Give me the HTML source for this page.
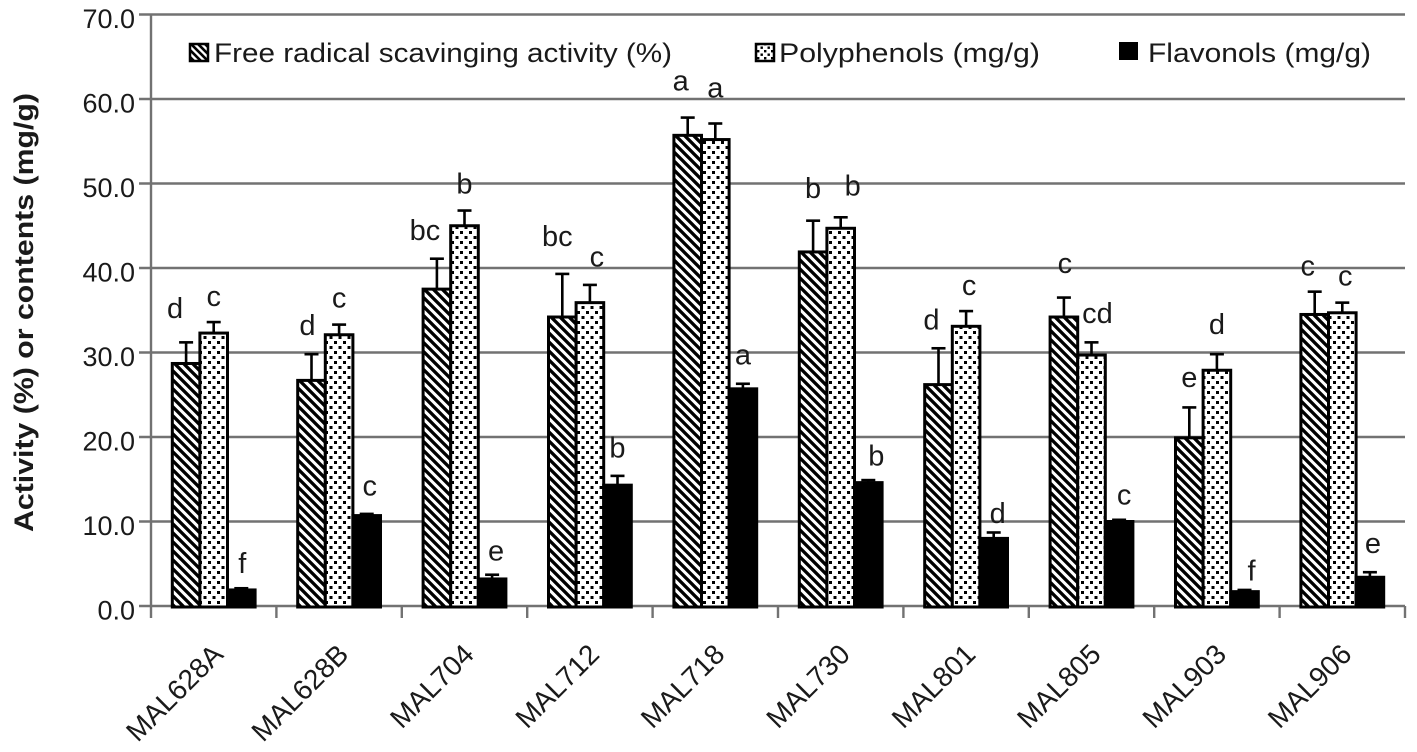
<!DOCTYPE html>
<html lang="en">
<head>
<meta charset="utf-8">
<title>Activity and contents by sample</title>
<style>
html,body{margin:0;padding:0;background:#fff;}
svg{display:block;}
text{font-family:"Liberation Sans",sans-serif;fill:#1a1a1a;}
</style>
</head>
<body>
<svg id="chart" width="1417" height="752" viewBox="0 0 1417 752" xmlns="http://www.w3.org/2000/svg">
<defs>
<pattern id="hatch" patternUnits="userSpaceOnUse" width="9" height="9">
<rect width="9" height="9" fill="#fff"/>
<path d="M-2,-2 L11,11 M-2,7 L2,11 M7,-2 L11,2" stroke="#000" stroke-width="3.3"/>
</pattern>
<pattern id="dots" patternUnits="userSpaceOnUse" width="9" height="10">
<rect width="9" height="10" fill="#fff"/>
<rect x="1" y="1" width="3" height="3" fill="#000"/>
<rect x="5.5" y="6" width="3" height="3" fill="#000"/>
</pattern>
<pattern id="hatch-small" patternUnits="userSpaceOnUse" width="7" height="7">
<rect width="7" height="7" fill="#fff"/>
<path d="M-2,-2 L9,9 M-2,5 L2,9 M5,-2 L9,2" stroke="#000" stroke-width="2.6"/>
</pattern>
<pattern id="dots-small" patternUnits="userSpaceOnUse" width="7" height="7">
<rect width="7" height="7" fill="#fff"/>
<rect x="1" y="1" width="2.4" height="2.4" fill="#000"/>
<rect x="4.5" y="4.5" width="2.4" height="2.4" fill="#000"/>
</pattern>
</defs>
<g id="grid"></g>
<g id="yticks"></g>
<g id="xticks"></g>
<g id="bars"></g>
<g id="letters"></g>
<text transform="translate(33,532) rotate(-90)" text-anchor="start" font-size="27" font-weight="bold" textLength="439" lengthAdjust="spacingAndGlyphs">Activity (%) or contents (mg/g)</text>
<g>
<g>
<rect x="190" y="44" width="18" height="17" fill="url(#hatch-small)" stroke="#000" stroke-width="2.5"/>
<text x="214" y="62" font-size="27" textLength="458" lengthAdjust="spacingAndGlyphs">Free radical scavinging activity (%)</text>
</g>
<g>
<rect x="756" y="44" width="18" height="17" fill="url(#dots-small)" stroke="#000" stroke-width="2.5"/>
<text x="779" y="62" font-size="27" textLength="261" lengthAdjust="spacingAndGlyphs">Polyphenols (mg/g)</text>
</g>
<g>
<rect x="1119" y="42" width="19" height="18" fill="#000"/>
<text x="1148" y="62" font-size="27" textLength="223" lengthAdjust="spacingAndGlyphs">Flavonols (mg/g)</text>
</g>
</g>
</svg>
<script>
const categories = ["MAL628A","MAL628B","MAL704","MAL712","MAL718","MAL730","MAL801","MAL805","MAL903","MAL906"];
const yTickLabels = ["0.0","10.0","20.0","30.0","40.0","50.0","60.0","70.0"];
const yTickValues = [0,10,20,30,40,50,60,70];
const radicalValues = [28.7,26.7,37.5,34.2,55.7,41.9,26.2,34.2,19.9,34.5];
const radicalErrorTops = [31.2,29.8,41.1,39.3,57.8,45.6,30.5,36.5,23.5,37.2];
const radicalLetters = ["d","d","bc","bc","a","b","d","c","e","c"];
const radicalLetterLevels = [34.1,32.1,43.3,42.6,61.0,48.3,32.7,39.4,25.9,39.1];
const polyValues = [32.3,32.1,45.0,35.9,55.2,44.7,33.1,29.7,27.9,34.7];
const polyErrorTops = [33.6,33.3,46.8,38.0,57.1,46.0,34.9,31.2,29.8,35.9];
const polyLetters = ["c","c","b","c","a","b","c","cd","d","c"];
const polyLetterLevels = [35.5,35.3,48.8,40.2,60.2,48.6,36.8,33.5,32.2,37.9];
const flavValues = [1.9,10.7,3.2,14.3,25.7,14.6,8.0,10.0,1.7,3.4];
const flavErrorTops = [2.1,10.9,3.7,15.4,26.3,14.9,8.7,10.2,1.9,4.0];
const flavLetters = ["f","c","e","b","a","b","d","c","f","e"];
const flavLetterLevels = [3.9,13.1,5.4,17.6,28.6,16.6,9.8,12.0,3.0,6.3];

const NS = "http://www.w3.org/2000/svg";
const plotLeft = 151, plotRight = 1405, zeroY = 606, unitPx = 8.45, barW = 27.6;
const yScale = v => zeroY - v * unitPx;
const xBand = i => plotLeft + (plotRight - plotLeft) / categories.length * i;
const xCenter = i => xBand(i + 0.5);
function mk(tag, attrs, parent) {
  const el = document.createElementNS(NS, tag);
  for (const k in attrs) el.setAttribute(k, attrs[k]);
  parent.appendChild(el);
  return el;
}
const gridG = document.getElementById("grid");
const yG = document.getElementById("yticks");
const xG = document.getElementById("xticks");
const barsG = document.getElementById("bars");
const lettersG = document.getElementById("letters");

yTickValues.forEach((v, i) => {
  const y = yScale(v);
  const line = mk("line", {x1: 139, x2: plotRight, y1: y, y2: y, stroke: "#727272", "stroke-width": 2.4}, gridG);
  
  
  const t = mk("text", {x: 135, y: y + 13.5, "text-anchor": "end", "font-size": 27}, yG);
  
  
  t.textContent = yTickLabels[i];
});
const yAxisLine = mk("line", {x1: plotLeft, x2: plotLeft, y1: yScale(70), y2: 618, stroke: "#727272", "stroke-width": 2.4}, yG);



categories.forEach((c, i) => {
  const tx = xBand(i + 1);
  const tick = mk("line", {x1: tx, x2: tx, y1: zeroY, y2: 618, stroke: "#727272", "stroke-width": 2.4}, xG);
  
  
  const cx = xCenter(i);
  const t = mk("text", {transform: "translate(" + (cx + 11) + ",656) rotate(-45)", "text-anchor": "end", "font-size": 28}, xG);
  
  
  t.textContent = c;
});

// Layout only: hand-placed horizontal nudges for the letters, in px, per series and category.
const letterNudges = [
  [-11,-4,-12,-5,-7,0,-7,1,0,-7],
  [0,0,0,7,0,12,3,6,0,3],
  [1,3,4,0,0,8,4,5,7,3]
];
const series = [
  {vals: radicalValues, errs: radicalErrorTops, letters: radicalLetters, levels: radicalLetterLevels, fill: "url(#hatch)", off: -1.5},
  {vals: polyValues, errs: polyErrorTops, letters: polyLetters, levels: polyLetterLevels, fill: "url(#dots)", off: -0.5},
  {vals: flavValues, errs: flavErrorTops, letters: flavLetters, levels: flavLetterLevels, fill: "#000", off: 0.5}
];
categories.forEach((c, i) => {
  series.forEach((s, si) => {
    const x = xCenter(i) + s.off * barW;
    const top = yScale(s.vals[i]);
    const mid = x + barW / 2;
    const errY = yScale(s.errs[i]);
    const stem = mk("line", {x1: mid, x2: mid, y1: top, y2: errY, stroke: "#000", "stroke-width": 2.6}, barsG);
    
    
    const cap = mk("line", {x1: mid - 7, x2: mid + 7, y1: errY, y2: errY, stroke: "#000", "stroke-width": 2.6}, barsG);
    
    
    const bar = mk("rect", {x: x, y: top, width: barW, height: zeroY + 1 - top, fill: s.fill, stroke: "#000", "stroke-width": 3}, barsG);
    
    
    const letter = mk("text", {x: mid + letterNudges[si][i], y: yScale(s.levels[i]), "text-anchor": "middle", "font-size": 29}, lettersG);
    
    
    letter.textContent = s.letters[i];
  });
});
</script>
</body>
</html>
